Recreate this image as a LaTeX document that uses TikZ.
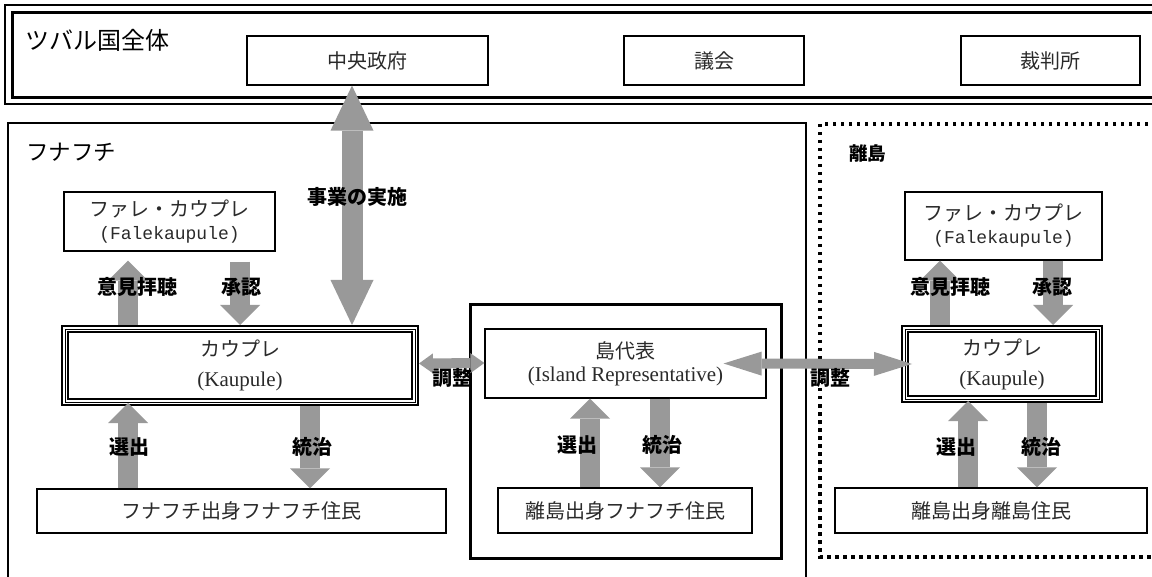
\documentclass[tikz,border=0pt]{standalone}
\usepackage{fontspec}
\setmainfont{Liberation Serif}
\newfontfamily\jp{Noto Sans CJK JP}
\newfontfamily\mono{Liberation Mono}
\usetikzlibrary{arrows.meta,calc}
\definecolor{agray}{HTML}{999999}
\definecolor{tgray}{HTML}{2A2A2A}
\tikzset{
 box/.style={draw, line width=1.2pt, inner sep=0pt, align=center, text=tgray, font={\jp\fontsize{20}{25}\selectfont}},
 lab/.style={inner sep=0pt, font={\jp\bfseries\fontsize{20}{24}\selectfont}},
 barr/.style={draw=agray, line width=20pt, -{Triangle[width=40pt,length=20pt,line width=0pt]}},
 bigarr/.style={draw=agray, line width=21pt, {Triangle[width=43pt,length=45pt,line width=0pt]}-{Triangle[width=43pt,length=45pt,line width=0pt]}},
 adjl/.style={draw=agray, line width=10pt, {Triangle[width=20pt,length=14pt,line width=0pt]}-{Triangle[width=20pt,length=14pt,line width=0pt]}},
 adjr/.style={draw=agray, line width=10pt, {Triangle[width=24pt,length=38pt,line width=0pt]}-{Triangle[width=24pt,length=38pt,line width=0pt]}},
 dotbox/.style={line width=3.5pt, dash pattern=on 3.5pt off 4.5pt},
}
\begin{document}
\begin{tikzpicture}[x=1pt,y=-1pt]
\useasboundingbox (0,0) rectangle (1152,577);
\clip (0,0) rectangle (1152,577);
% region frames
\draw[line width=1.2pt] (5,5) rectangle (1170,104);
\draw[line width=3pt] (12,13) rectangle (1170,98);
\draw[line width=1.2pt] (8,123) rectangle (806,600);
\draw[dotbox] (820,124) rectangle (1175,557);
\draw[line width=3pt] (470,305) rectangle (781,558);
% titles
\node[anchor=west, inner sep=0pt, font={\jp\fontsize{24}{28}\selectfont}] (tTuvalu) at (25,40) {ツバル国全体};
\node[anchor=west, inner sep=0pt, font={\jp\fontsize{22.5}{26}\selectfont}] (tFuna) at (26,152) {フナフチ};
\node[anchor=west, inner sep=0pt, font={\jp\bfseries\fontsize{18.5}{22}\selectfont}] (tOuter) at (849,153) {離島};
% national boxes
\node[box, minimum width=241pt, minimum height=49pt] (cg) at (367.5,60.5) {中央政府};
\node[box, minimum width=180pt, minimum height=49pt] (gk) at (714,60.5) {議会};
\node[box, minimum width=179pt, minimum height=49pt] (sb) at (1050.5,60.5) {裁判所};
% Funafuti
\node[box, minimum width=211pt, minimum height=59pt] (fL) at (169.5,221.5) {ファレ・カウプレ\\[-2pt]{\mono\fontsize{18}{22}\selectfont (Falekaupule)}};
\node[box, line width=2pt, minimum width=356pt, minimum height=79pt] (kL) at (240,365.5) {カウプレ\\[5pt]{\rmfamily\fontsize{21}{25}\selectfont (Kaupule)}};
\draw[line width=0.6pt] ([shift={(4,4)}]kL.north west) rectangle ([shift={(-4,-4)}]kL.south east);
\draw[line width=2pt] ([shift={(7,7)}]kL.north west) rectangle ([shift={(-7,-7)}]kL.south east);
\node[box, minimum width=409pt, minimum height=44pt] (pL) at (241.5,511) {フナフチ出身フナフチ住民};
% island representative
\node[box, minimum width=281pt, minimum height=69pt] (isl) at (625.5,363.5) {島代表\\[-2pt]{\rmfamily\fontsize{21}{25}\selectfont (Island Representative)}};
\node[box, minimum width=254pt, minimum height=45pt] (pM) at (625,510.5) {離島出身フナフチ住民};
% outer islands
\node[box, minimum width=197pt, minimum height=68pt] (fR) at (1003.5,226) {ファレ・カウプレ\\[-2pt]{\mono\fontsize{18}{22}\selectfont (Falekaupule)}};
\node[box, line width=2pt, minimum width=200pt, minimum height=76pt] (kR) at (1002,364) {カウプレ\\[5pt]{\rmfamily\fontsize{21}{25}\selectfont (Kaupule)}};
\draw[line width=0.6pt] ([shift={(4,4)}]kR.north west) rectangle ([shift={(-4,-4)}]kR.south east);
\draw[line width=2pt] ([shift={(7,7)}]kR.north west) rectangle ([shift={(-7,-7)}]kR.south east);
\node[box, minimum width=312pt, minimum height=45pt] (pR) at (991,510.5) {離島出身離島住民};
% arrow columns
\coordinate (x0) at (352,0);
\coordinate (x1) at (128,0);
\coordinate (x2) at (240,0);
\coordinate (x3) at (310,0);
\coordinate (x4) at (590,0);
\coordinate (x5) at (660,0);
\coordinate (x6) at (940,0);
\coordinate (x7) at (1053,0);
\coordinate (x8) at (968,0);
\coordinate (x9) at (1037,0);
% arrows
\draw[bigarr] (cg.south -| x0) -- (kL.north -| x0);
\draw[barr] (kL.north -| x1) -- ($(fL.south -| x1)+(0,9)$);
\draw[barr] ($(fL.south -| x2)+(0,10)$) -- (kL.north -| x2);
\draw[barr] (pL.north -| x1) -- ($(kL.south -| x1)+(0,-3)$);
\draw[barr] (kL.south -| x3) -- (pL.north -| x3);
\draw[barr] (pM.north -| x4) -- (isl.south -| x4);
\draw[barr] (isl.south -| x5) -- (pM.north -| x5);
\draw[barr] (kR.north -| x6) -- (fR.south -| x6);
\draw[barr] (fR.south -| x7) -- (kR.north -| x7);
\draw[barr] (pR.north -| x8) -- ($(kR.south -| x8)+(0,-2)$);
\draw[barr] (kR.south -| x9) -- (pR.north -| x9);
\draw[adjl] ($(kL.east)+(0,-2)$) -- ($(isl.west)+(0,-0.5)$);
\draw[adjr] ([xshift=-43pt]isl.east) -- ([xshift=11pt]kR.west);
% labels
\node[lab] (lJigyo) at (357,197) {事業の実施};
\node[lab] (lIkenL) at (137,287) {意見拝聴};
\node[lab] (lShoL) at (241,287) {承認};
\node[lab] (lIkenR) at (950,287) {意見拝聴};
\node[lab] (lShoR) at (1052,287) {承認};
\node[lab] (lSenL) at (129,447) {選出};
\node[lab] (lToL) at (312,447) {統治};
\node[lab] (lSenM) at (577,445) {選出};
\node[lab] (lToM) at (662,445) {統治};
\node[lab] (lSenR) at (956,447) {選出};
\node[lab] (lToR) at (1041,447) {統治};
\node[lab] (lChoL) at (452,378) {調整};
\node[lab] (lChoR) at (830,378) {調整};
\end{tikzpicture}
\end{document}
